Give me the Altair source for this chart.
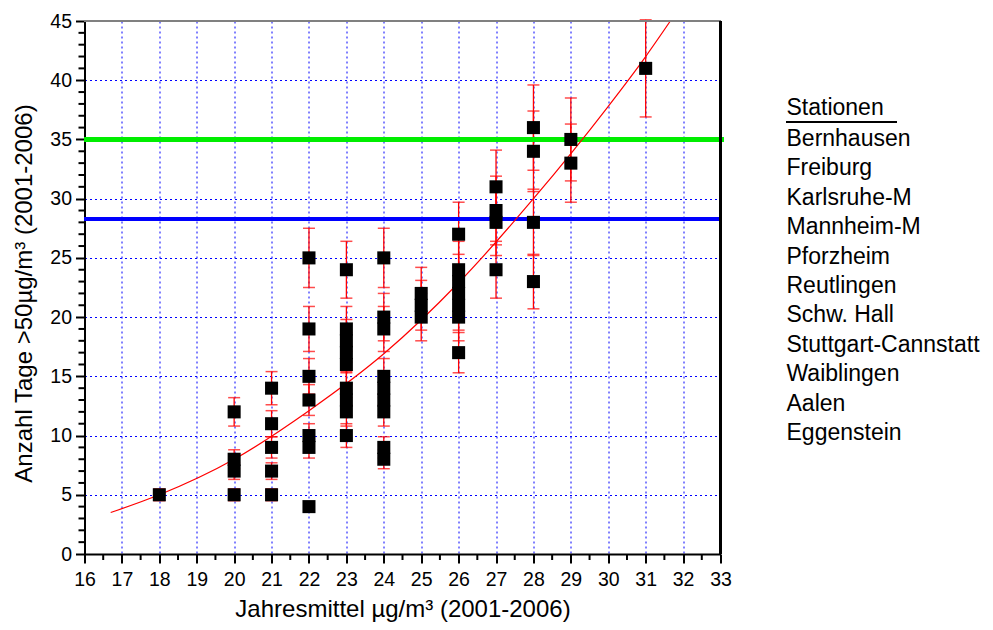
import altair as alt
import pandas as pd

# ---- data ----
x_mean = [18,
          20, 20, 20, 20,
          21, 21, 21, 21, 21,
          22, 22, 22, 22, 22, 22, 22,
          23, 23, 23, 23, 23, 23, 23, 23, 23,
          24, 24, 24, 24, 24, 24, 24, 24, 24,
          25, 25, 25,
          26, 26, 26, 26, 26, 26, 26,
          27, 27, 27, 27,
          28, 28, 28, 28,
          29, 29,
          31]
y_days = [5,
          12, 8, 7, 5,
          14, 11, 9, 7, 5,
          25, 19, 15, 13, 10, 9, 4,
          24, 19, 18, 17, 16, 14, 13, 12, 10,
          25, 20, 19, 15, 14, 13, 12, 9, 8,
          22, 21, 20,
          27, 24, 23, 22, 21, 20, 17,
          31, 29, 28, 24,
          36, 34, 28, 23,
          35, 33,
          41]

fit_x = [16.7, 18, 20, 22, 24, 26, 28, 30, 31, 31.66]
fit_y = [3.5, 5.0, 8.0, 12.1, 16.9, 22.9, 30.0, 37.8, 42.0, 45.0]

limit_green = 35
limit_blue = 28.3

stations = ["Bernhausen", "Freiburg", "Karlsruhe-M", "Mannheim-M", "Pforzheim",
            "Reutlingen", "Schw. Hall", "Stuttgart-Cannstatt", "Waiblingen",
            "Aalen", "Eggenstein"]
legend_title = "Stationen"

x_major = list(range(16, 34))
x_minor = [v + 0.5 for v in range(16, 33)]
y_major = list(range(0, 46, 5))
y_minor = [v for v in range(0, 46) if v % 5 != 0]

W, H = 636, 533
FONT = "Liberation Sans"

pts = pd.DataFrame({"x": x_mean, "y": y_days})
fit = pd.DataFrame({"x": fit_x, "y": fit_y})
leg = pd.DataFrame({"name": stations, "row": list(range(len(stations)))})

xscale = alt.Scale(domain=[16, 33], nice=False, zero=False)
yscale = alt.Scale(domain=[0, 45], nice=False)

x_axis = alt.Axis(
    values=x_major, format="d",
    labelOverlap=False, labelFlush=False,
    tickSize=9, grid=True, labelPadding=7,
    title="Jahresmittel µg/m³ (2001-2006)",
    titlePadding=9,
)
y_axis = alt.Axis(
    values=y_major, format="d",
    labelOverlap=False, labelFlush=False,
    tickSize=9, grid=True, labelPadding=4,
    title="Anzahl Tage >50µg/m³ (2001-2006)",
    titlePadding=13, titleY=272,
)

X = lambda f: alt.X(f, scale=xscale, axis=x_axis)
Y = lambda f: alt.Y(f, scale=yscale, axis=y_axis)

base = alt.Chart(pts)

bars = base.mark_rule(color="#ff0000", strokeWidth=1.3).encode(
    x=X("x:Q"), y=Y("lo:Q"), y2="hi:Q",
).transform_calculate(lo="datum.y * 0.9", hi="datum.y * 1.1")

cap_lo = base.mark_tick(color="#ff0000", orient="horizontal", size=12, thickness=1.5).encode(
    x=X("x:Q"), y=Y("lo:Q")
).transform_calculate(lo="datum.y * 0.9")
cap_hi = base.mark_tick(color="#ff0000", orient="horizontal", size=12, thickness=1.5).encode(
    x=X("x:Q"), y=Y("hi:Q")
).transform_calculate(hi="datum.y * 1.1")

squares = base.mark_square(color="black", size=170, opacity=1).encode(x=X("x:Q"), y=Y("y:Q"))

curve = alt.Chart(fit).mark_line(color="#ff0000", strokeWidth=1.2, interpolate="monotone", clip=True).encode(
    x=X("x:Q"), y=Y("y:Q")
)

green = alt.Chart(pts).mark_rule(color="#00ee00", strokeWidth=4).encode(
    y=alt.Y(datum=limit_green, scale=yscale, axis=y_axis), x=alt.value(0), x2=alt.value(W + 3)
)
blue = alt.Chart(pts).mark_rule(color="#0000ff", strokeWidth=3).encode(
    y=alt.Y(datum=limit_blue, scale=yscale, axis=y_axis), x=alt.value(0), x2=alt.value(W)
)

# minor ticks
xminor = alt.Chart(pd.DataFrame({"v": x_minor})).mark_rule(color="black", strokeWidth=2).encode(
    x=X("v:Q"), y=alt.value(H), y2=alt.value(H + 6)
)
yminor = alt.Chart(pd.DataFrame({"v": y_minor})).mark_rule(color="black", strokeWidth=2).encode(
    y=Y("v:Q"), x=alt.value(-6), x2=alt.value(0)
)

top_border = alt.Chart(pts).mark_rule(color="#808080", strokeWidth=2).encode(
    y=alt.value(0), x=alt.value(0), x2=alt.value(W)
)
right_border = alt.Chart(pts).mark_rule(color="black", strokeWidth=2).encode(
    x=alt.value(W), y=alt.value(0), y2=alt.value(H)
)

leg_title = alt.Chart(pd.DataFrame({"t": [legend_title]})).mark_text(
    align="left", baseline="middle", font=FONT, fontSize=23, color="black"
).encode(text="t:N", x=alt.value(702), y=alt.value(87))
underline = alt.Chart(pts).mark_rule(color="black", strokeWidth=1.5).encode(
    x=alt.value(702), x2=alt.value(812), y=alt.value(101)
)
leg_text = alt.Chart(leg).mark_text(
    align="left", baseline="middle", font=FONT, fontSize=23, color="black"
).encode(
    text="name:N",
    x=alt.value(702),
    y=alt.Y("ypx:Q", scale=None),
).transform_calculate(ypx="118 + datum.row * 29.4")

chart = alt.layer(
    bars, green, blue, cap_lo, cap_hi, curve, squares,
    xminor, yminor, top_border, right_border, leg_title, underline, leg_text
).properties(
    width=W, height=H,
    autosize="none",
    padding={"left": 76.5, "top": 13, "right": 260, "bottom": 68},
).configure_view(stroke=None).configure_axis(
    domainColor="black", domainWidth=2,
    tickColor="black", tickWidth=2,
    labelColor="black", labelFont=FONT, labelFontSize=19.5,
    titleColor="black", titleFont=FONT, titleFontSize=24, titleFontWeight="normal",
    gridColor="#0000ff", gridDash=[2, 3], gridWidth=1, gridOpacity=1,
)

chart.save("out.html", embed_options={"renderer": "svg", "actions": False})
